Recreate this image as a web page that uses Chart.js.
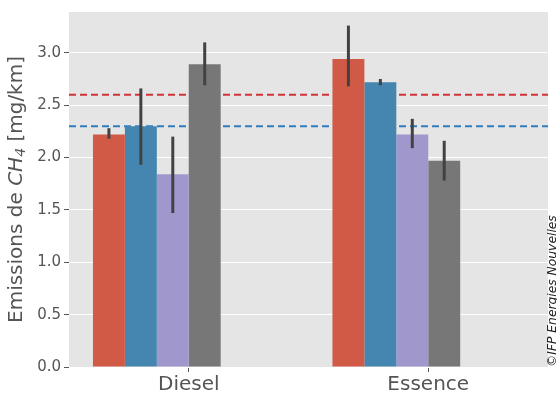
<!DOCTYPE html>
<html>
<head>
<meta charset="utf-8">
<script src="https://cdn.jsdelivr.net/npm/chart.js@4"></script>
<style>
  html, body { margin: 0; padding: 0; background: #fff; }
  #wrap { width: 557px; height: 396px; }
</style>
</head>
<body>
<div id="wrap"><canvas id="ch4-chart"></canvas></div>
<script>
const categories = ["Diesel", "Essence"];
const redValues = [2.22, 2.94];
const blueValues = [2.30, 2.72];
const purpleValues = [1.84, 2.22];
const grayValues = [2.89, 1.97];
// two more hue levels exist in the plot but have no bars here
const emptyA = [null, null];
const emptyB = [null, null];
// error bar ends, same order as the series above
const errLow = [[2.18, 2.68], [1.93, 2.69], [1.47, 2.09], [2.69, 1.78]];
const errHigh = [[2.28, 3.26], [2.66, 2.75], [2.20, 2.37], [3.10, 2.16]];
const refLines = [2.6, 2.3];
const yTicks = [0, 0.5, 1, 1.5, 2, 2.5, 3];

const barColors = ["#d05a45", "#4586b0", "#a098cd", "#777777", "#fbc15e", "#8eba42"];
const refColors = ["#d1333a", "#2f7dc0"];
const font = "'DejaVu Sans', sans-serif";

const panelBg = {
  id: "panelBg",
  beforeDraw(chart) {
    const { ctx, chartArea: a } = chart;
    ctx.save();
    ctx.fillStyle = "#e5e5e5";
    ctx.fillRect(a.left, a.top, a.right - a.left, a.bottom - a.top);
    ctx.restore();
  }
};

const refLinesPlugin = {
  id: "refLines",
  beforeDatasetsDraw(chart) {
    const { ctx, chartArea: a, scales } = chart;
    ctx.save();
    ctx.lineWidth = 2;
    ctx.setLineDash([7, 4]);
    refLines.forEach((v, i) => {
      const y = scales.y.getPixelForValue(v);
      ctx.strokeStyle = refColors[i];
      ctx.beginPath();
      ctx.moveTo(a.left, y);
      ctx.lineTo(a.right, y);
      ctx.stroke();
    });
    ctx.restore();
  }
};

const errorBars = {
  id: "errorBars",
  afterDatasetsDraw(chart) {
    const { ctx, scales } = chart;
    ctx.save();
    ctx.strokeStyle = "#424242";
    ctx.lineWidth = 3;
    errLow.forEach((lows, i) => {
      chart.getDatasetMeta(i).data.forEach((bar, j) => {
        ctx.beginPath();
        ctx.moveTo(bar.x, scales.y.getPixelForValue(lows[j]));
        ctx.lineTo(bar.x, scales.y.getPixelForValue(errHigh[i][j]));
        ctx.stroke();
      });
    });
    ctx.restore();
  }
};

const sideTexts = {
  id: "sideTexts",
  afterDraw(chart) {
    const { ctx, chartArea: a } = chart;
    // y axis title with italic CH and subscript 4
    const parts = [
      { t: "Emissions de ", f: "20px " + font, dy: 0 },
      { t: "CH", f: "italic 20px " + font, dy: 0 },
      { t: "4", f: "italic 14px " + font, dy: 4 },
      { t: " [mg/km]", f: "20px " + font, dy: 0 }
    ];
    ctx.save();
    ctx.fillStyle = "#555555";
    ctx.textBaseline = "middle";
    ctx.textAlign = "left";
    let total = 0;
    parts.forEach(p => { ctx.font = p.f; total += ctx.measureText(p.t).width; });
    ctx.translate(17, (a.top + a.bottom) / 2);
    ctx.rotate(-Math.PI / 2);
    let x = -total / 2;
    parts.forEach(p => {
      ctx.font = p.f;
      ctx.fillText(p.t, x, p.dy);
      x += ctx.measureText(p.t).width;
    });
    ctx.restore();

    ctx.save();
    ctx.fillStyle = "#222222";
    ctx.font = "italic 12.3px " + font;
    ctx.textBaseline = "middle";
    ctx.textAlign = "left";
    ctx.translate(553, 367);
    ctx.rotate(-Math.PI / 2);
    ctx.fillText("\u00a9IFP Energies Nouvelles", 0, 0);
    ctx.restore();
  }
};

const seriesValues = [redValues, blueValues, purpleValues, grayValues, emptyA, emptyB];

new Chart("ch4-chart", {
  type: "bar",
  data: {
    labels: categories,
    datasets: seriesValues.map((vals, i) => ({
      data: vals,
      backgroundColor: barColors[i],
      borderWidth: 0,
      categoryPercentage: 0.8,
      barPercentage: 1.0
    }))
  },
  options: {
    responsive: true,
    maintainAspectRatio: false,
    animation: false,
    layout: { padding: { left: 0, right: 9, top: 9, bottom: 0 } },
    plugins: {
      legend: { display: false },
      tooltip: { enabled: false }
    },
    scales: {
      x: {
        afterFit(scale) { scale.height = 29; },
        border: { display: false },
        grid: {
          offset: false,
          drawOnChartArea: false,
          tickLength: 5,
          tickColor: "#555555"
        },
        ticks: {
          color: "#555555",
          padding: 1,
          font: { family: font, size: 20 }
        }
      },
      y: {
        min: 0,
        max: 3.39,
        afterFit(scale) { scale.width = 69; },
        afterBuildTicks(scale) { scale.ticks = yTicks.map(v => ({ value: v })); },
        border: { display: false },
        grid: {
          color: "#ffffff",
          lineWidth: 1,
          tickLength: 5,
          tickColor: "#555555"
        },
        ticks: {
          color: "#555555",
          padding: 3,
          font: { family: font, size: 15 },
          callback: v => v.toFixed(1)
        }
      }
    }
  },
  plugins: [panelBg, refLinesPlugin, errorBars, sideTexts]
});
</script>
</body>
</html>
